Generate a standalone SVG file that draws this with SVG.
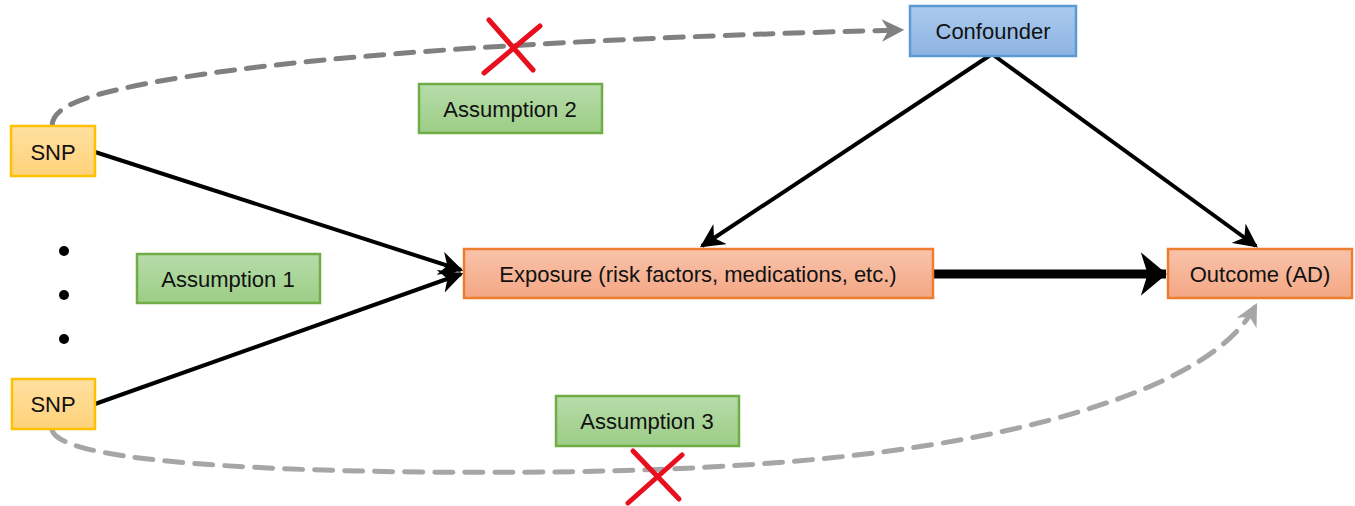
<svg xmlns="http://www.w3.org/2000/svg" width="1355" height="506" viewBox="0 0 1355 506">
<defs>
<linearGradient id="gY" x1="0" y1="0" x2="0" y2="1"><stop offset="0" stop-color="#ffe0a0"/><stop offset="1" stop-color="#ffd27a"/></linearGradient>
<linearGradient id="gG" x1="0" y1="0" x2="0" y2="1"><stop offset="0" stop-color="#b7dcaa"/><stop offset="1" stop-color="#9ccd86"/></linearGradient>
<linearGradient id="gB" x1="0" y1="0" x2="0" y2="1"><stop offset="0" stop-color="#abcbee"/><stop offset="1" stop-color="#8db3e2"/></linearGradient>
<linearGradient id="gO" x1="0" y1="0" x2="0" y2="1"><stop offset="0" stop-color="#f8c3ab"/><stop offset="1" stop-color="#f4a784"/></linearGradient>
<marker id="ah" viewBox="0 0 10 10" refX="9" refY="5" markerWidth="6" markerHeight="6" markerUnits="strokeWidth" orient="auto"><path d="M0,0 L10,5 L0,10 L3,5 Z" fill="#000"/></marker>
<marker id="ahBig" viewBox="0 0 6 10" refX="5.8" refY="5" markerWidth="2.9" markerHeight="4.9" markerUnits="strokeWidth" orient="auto"><path d="M0,0 L6,5 L0,10 L1.6,5 Z" fill="#000"/></marker>
<marker id="ahG1" viewBox="0 0 10 10" refX="9" refY="5" markerWidth="4.5" markerHeight="4.5" markerUnits="strokeWidth" orient="auto"><path d="M0,0 L10,5 L0,10 L3,5 Z" fill="#808080"/></marker>
<marker id="ahG2" viewBox="0 0 10 10" refX="9" refY="5" markerWidth="4.5" markerHeight="4.5" markerUnits="strokeWidth" orient="auto"><path d="M0,0 L10,5 L0,10 L3,5 Z" fill="#a6a6a6"/></marker>
</defs>
<style>
text{font-family:"Liberation Sans",Arial,sans-serif;font-size:22px;fill:#111;text-anchor:middle;dominant-baseline:central}
.snp{fill:url(#gY);stroke:#ffc000;stroke-width:2.5}
.asm{fill:url(#gG);stroke:#70ad47;stroke-width:2.5}
.conf{fill:url(#gB);stroke:#5b9bd5;stroke-width:2.5}
.ora{fill:url(#gO);stroke:#ed7d31;stroke-width:2.5}
.solid{fill:none;stroke:#000;stroke-width:4}
.dash1{fill:none;stroke:#808080;stroke-width:5;stroke-dasharray:18 12;stroke-linecap:round}
.dash2{fill:none;stroke:#a6a6a6;stroke-width:5;stroke-dasharray:18 12;stroke-linecap:round}
.x{stroke:#e8101e;stroke-width:5;stroke-linecap:round;fill:none}
</style>
<g id="connectors">
<line class="solid" x1="95" y1="152" x2="461" y2="270" marker-end="url(#ah)"/>
<line class="solid" x1="95" y1="404" x2="461" y2="274" marker-end="url(#ah)"/>
<line class="solid" x1="992" y1="54" x2="702" y2="246" marker-end="url(#ah)"/>
<line class="solid" x1="992" y1="54" x2="1256" y2="246" marker-end="url(#ah)"/>
<line fill="none" stroke="#000" stroke-width="9" x1="933" y1="274" x2="1166" y2="274" marker-end="url(#ahBig)"/>
<path class="dash1" d="M52,126 C52,112 70,102 100,94 C220,62 500,40 902,30" marker-end="url(#ahG1)"/>
<path class="dash2" d="M52,430 C60,460 240,470 420,472 C700,475 900,460 1050,420 C1180,385 1235,345 1256,305" marker-end="url(#ahG2)"/>
</g>
<g id="snp1"><rect class="snp" x="11" y="126" width="84" height="50"/><text x="53" y="152">SNP</text></g>
<g id="snp2"><rect class="snp" x="12" y="379" width="83" height="50"/><text x="53" y="404">SNP</text></g>
<g id="dots" fill="#000"><circle cx="64" cy="251" r="5"/><circle cx="64" cy="295" r="5"/><circle cx="64" cy="339" r="5"/></g>
<g id="assumption2"><rect class="asm" x="419" y="84" width="183" height="49"/><text x="510" y="109">Assumption 2</text></g>
<g id="assumption1"><rect class="asm" x="137" y="254" width="183" height="49"/><text x="228" y="279">Assumption 1</text></g>
<g id="assumption3"><rect class="asm" x="556" y="396" width="183" height="50"/><text x="647" y="421">Assumption 3</text></g>
<g id="confounder"><rect class="conf" x="910" y="6" width="166" height="50"/><text x="993" y="31">Confounder</text></g>
<g id="exposure"><rect class="ora" x="464" y="249" width="469" height="49"/><text x="698" y="274">Exposure (risk factors, medications, etc.)</text></g>
<g id="outcome"><rect class="ora" x="1168" y="249" width="184" height="49"/><text x="1260" y="274">Outcome (AD)</text></g>
<g id="cross1"><line class="x" x1="489" y1="20" x2="533" y2="70"/><line class="x" x1="540" y1="26" x2="484" y2="73"/></g>
<g id="cross2"><line class="x" x1="633" y1="451" x2="679" y2="499"/><line class="x" x1="682" y1="455" x2="628" y2="503"/></g>
</svg>
